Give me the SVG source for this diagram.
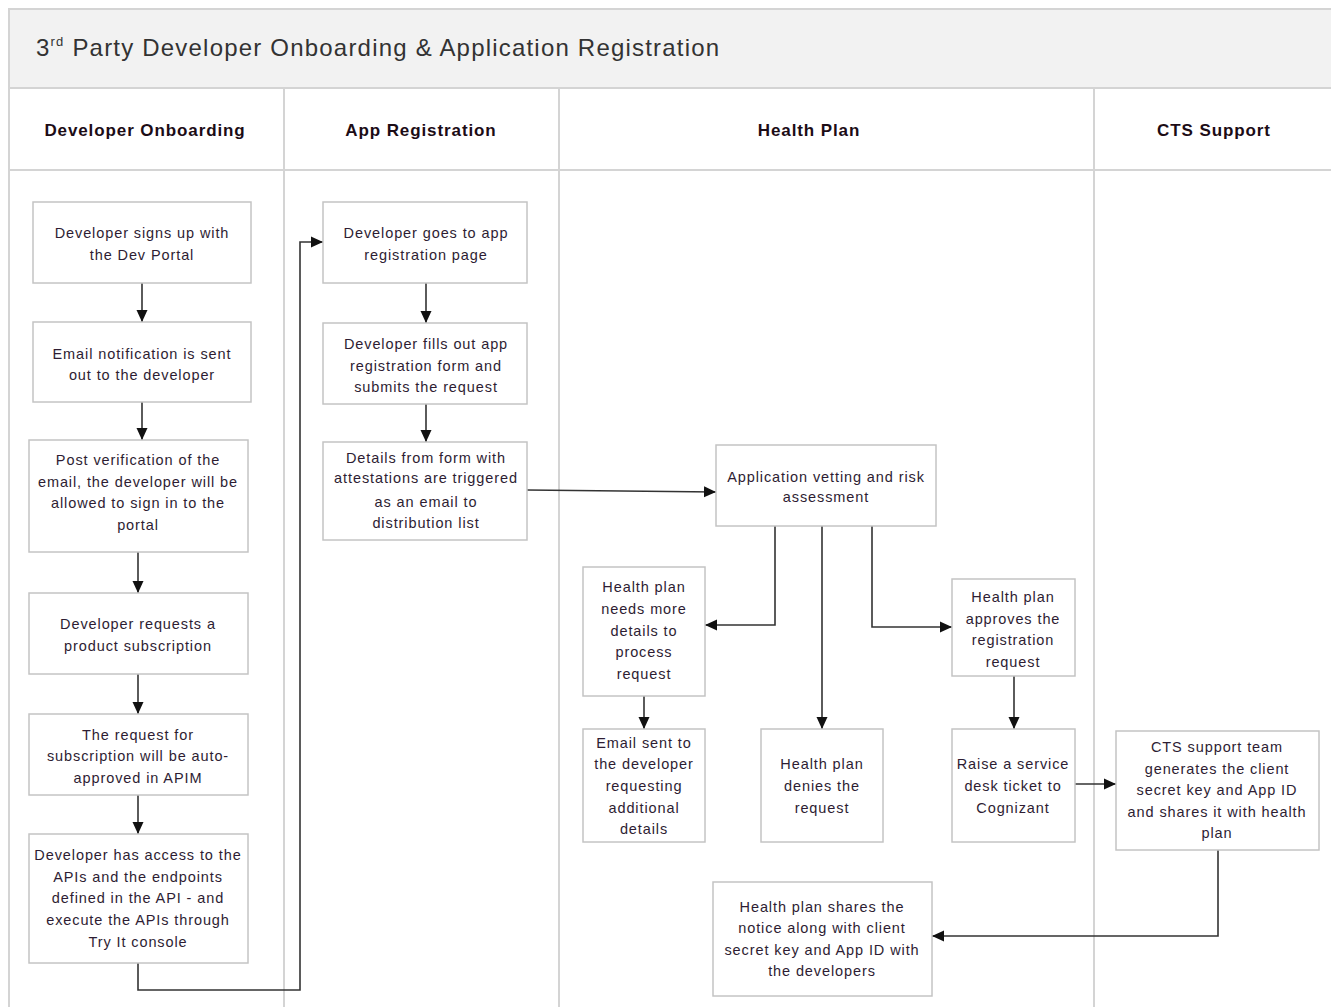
<svg xmlns="http://www.w3.org/2000/svg" width="1331" height="1007" viewBox="0 0 1331 1007">
<defs>
<marker id="ah" viewBox="0 0 12 12" refX="12" refY="6" markerWidth="12" markerHeight="12" markerUnits="userSpaceOnUse" orient="auto">
<path d="M0,0.5 L12,6 L0,11.5 z" fill="#111"/>
</marker>
</defs>
<style>
.lane{stroke:#d4d4d4;stroke-width:2;fill:none}
.box{fill:#fff;stroke:#c4c4c4;stroke-width:1.5}
.t{font-family:"Liberation Sans",Arial,sans-serif;font-size:14.5px;letter-spacing:0.9px;fill:#2e1d33;text-anchor:middle}
.h{font-family:"Liberation Sans",Arial,sans-serif;font-size:17px;font-weight:bold;letter-spacing:0.9px;fill:#1c0c16;text-anchor:middle}
.c{stroke:#333;stroke-width:1.6;fill:none;marker-end:url(#ah)}
</style>
<rect x="0" y="0" width="1331" height="1007" fill="#fff"/>
<g id="lanes">
<rect x="9" y="9" width="1330" height="79" fill="#f2f2f2" stroke="#d4d4d4" stroke-width="2"/>
<line class="lane" x1="9" y1="88" x2="1331" y2="88"/>
<line class="lane" x1="9" y1="170" x2="1331" y2="170"/>
<line class="lane" x1="9" y1="88" x2="9" y2="1007"/>
<line class="lane" x1="284" y1="88" x2="284" y2="1007"/>
<line class="lane" x1="559" y1="88" x2="559" y2="1007"/>
<line class="lane" x1="1094" y1="88" x2="1094" y2="1007"/>
<text x="36" y="56" font-family="Liberation Sans, Arial, sans-serif" font-size="24" fill="#333" letter-spacing="1.2">3<tspan font-size="13" dy="-10">rd</tspan><tspan dy="10"> Party Developer Onboarding &amp; Application Registration</tspan></text>
<text class="h" x="145" y="136">Developer Onboarding</text>
<text class="h" x="421" y="136">App Registration</text>
<text class="h" x="809" y="136">Health Plan</text>
<text class="h" x="1214" y="136">CTS Support</text>
</g>
<g id="connectors">
<line class="c" x1="142" y1="283" x2="142" y2="322"/>
<line class="c" x1="142" y1="402" x2="142" y2="440"/>
<line class="c" x1="138" y1="552" x2="138" y2="593"/>
<line class="c" x1="138" y1="674" x2="138" y2="714"/>
<line class="c" x1="138" y1="795" x2="138" y2="834"/>
<polyline class="c" points="138,963 138,990 300,990 300,242 323,242"/>
<line class="c" x1="426" y1="283" x2="426" y2="323"/>
<line class="c" x1="426" y1="404" x2="426" y2="442"/>
<polyline class="c" points="527,490 716,492"/>
<polyline class="c" points="775,526 775,625 705,625"/>
<line class="c" x1="822" y1="526" x2="822" y2="729"/>
<polyline class="c" points="872,526 872,627 952,627"/>
<line class="c" x1="644" y1="696" x2="644" y2="729"/>
<line class="c" x1="1014" y1="676" x2="1014" y2="729"/>
<line class="c" x1="1075" y1="784" x2="1116" y2="784"/>
<polyline class="c" points="1218,850 1218,936 932,936"/>
</g>
<g id="n1"><rect class="box" x="33" y="202" width="218" height="81"/>
<text class="t" x="142" y="238">Developer signs up with</text><text class="t" x="142" y="260">the Dev Portal</text></g>
<g id="n2"><rect class="box" x="33" y="322" width="218" height="80"/>
<text class="t" x="142" y="359">Email notification is sent</text><text class="t" x="142" y="380">out to the developer</text></g>
<g id="n3"><rect class="box" x="29" y="440" width="219" height="112"/>
<text class="t" x="138" y="465">Post verification of the</text><text class="t" x="138" y="487">email, the developer will be</text><text class="t" x="138" y="508">allowed to sign in to the</text><text class="t" x="138" y="530">portal</text></g>
<g id="n4"><rect class="box" x="29" y="593" width="219" height="81"/>
<text class="t" x="138" y="629">Developer requests a</text><text class="t" x="138" y="651">product subscription</text></g>
<g id="n5"><rect class="box" x="29" y="714" width="219" height="81"/>
<text class="t" x="138" y="740">The request for</text><text class="t" x="138" y="761">subscription will be auto-</text><text class="t" x="138" y="783">approved in APIM</text></g>
<g id="n6"><rect class="box" x="29" y="834" width="219" height="129"/>
<text class="t" x="138" y="860">Developer has access to the</text><text class="t" x="138" y="882">APIs and the endpoints</text><text class="t" x="138" y="903">defined in the API - and</text><text class="t" x="138" y="925">execute the APIs through</text><text class="t" x="138" y="947">Try It console</text></g>
<g id="n7"><rect class="box" x="323" y="202" width="204" height="81"/>
<text class="t" x="426" y="238">Developer goes to app</text><text class="t" x="426" y="260">registration page</text></g>
<g id="n8"><rect class="box" x="323" y="323" width="204" height="81"/>
<text class="t" x="426" y="349">Developer fills out app</text><text class="t" x="426" y="371">registration form and</text><text class="t" x="426" y="392">submits the request</text></g>
<g id="n9"><rect class="box" x="323" y="442" width="204" height="98"/>
<text class="t" x="426" y="463">Details from form with</text><text class="t" x="426" y="483" letter-spacing="0.5">attestations are triggered</text><text class="t" x="426" y="507">as an email to</text><text class="t" x="426" y="528">distribution list</text></g>
<g id="n10"><rect class="box" x="716" y="445" width="220" height="81"/>
<text class="t" x="826" y="482">Application vetting and risk</text><text class="t" x="826" y="502">assessment</text></g>
<g id="n11"><rect class="box" x="583" y="567" width="122" height="129"/>
<text class="t" x="644" y="592">Health plan</text><text class="t" x="644" y="614">needs more</text><text class="t" x="644" y="636">details to</text><text class="t" x="644" y="657">process</text><text class="t" x="644" y="679">request</text></g>
<g id="n12"><rect class="box" x="583" y="729" width="122" height="113"/>
<text class="t" x="644" y="748">Email sent to</text><text class="t" x="644" y="769">the developer</text><text class="t" x="644" y="791">requesting</text><text class="t" x="644" y="813">additional</text><text class="t" x="644" y="834">details</text></g>
<g id="n13"><rect class="box" x="761" y="729" width="122" height="113"/>
<text class="t" x="822" y="769">Health plan</text><text class="t" x="822" y="791">denies the</text><text class="t" x="822" y="813">request</text></g>
<g id="n14"><rect class="box" x="952" y="579" width="123" height="97"/>
<text class="t" x="1013" y="602">Health plan</text><text class="t" x="1013" y="624">approves the</text><text class="t" x="1013" y="645">registration</text><text class="t" x="1013" y="667">request</text></g>
<g id="n15"><rect class="box" x="952" y="729" width="123" height="113"/>
<text class="t" x="1013" y="769">Raise a service</text><text class="t" x="1013" y="791">desk ticket to</text><text class="t" x="1013" y="813">Cognizant</text></g>
<g id="n16"><rect class="box" x="713" y="882" width="219" height="114"/>
<text class="t" x="822" y="912">Health plan shares the</text><text class="t" x="822" y="933">notice along with client</text><text class="t" x="822" y="955">secret key and App ID with</text><text class="t" x="822" y="976">the developers</text></g>
<g id="n17"><rect class="box" x="1116" y="731" width="203" height="119"/>
<text class="t" x="1217" y="752">CTS support team</text><text class="t" x="1217" y="774">generates the client</text><text class="t" x="1217" y="795">secret key and App ID</text><text class="t" x="1217" y="817">and shares it with health</text><text class="t" x="1217" y="838">plan</text></g>
</svg>
